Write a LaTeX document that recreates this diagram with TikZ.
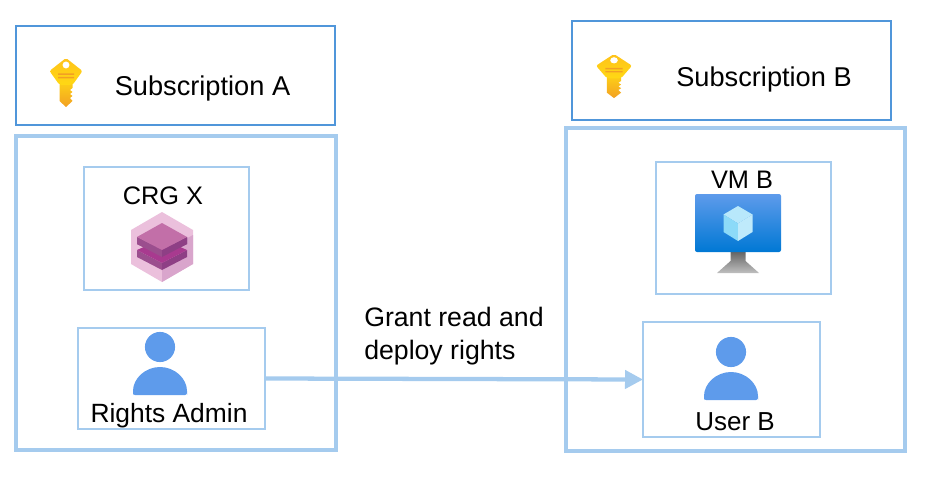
\documentclass[tikz,border=0pt]{standalone}
\usepackage{fontspec}
\setmainfont{Liberation Sans}
\usepackage{tikz}
\usepackage{xcolor}
\usetikzlibrary{arrows.meta, positioning, calc}
\definecolor{cHead}{RGB}{80,150,218}
\definecolor{cPale}{RGB}{165,203,238}
\definecolor{cUser}{RGB}{94,155,235}
\definecolor{cKeyTop}{RGB}{255,194,26}
\definecolor{cKeyMid}{RGB}{255,216,20}
\definecolor{cKeyLow}{RGB}{242,160,36}
\definecolor{cCubeOut}{RGB}{235,192,220}
\definecolor{cCubeDim}{RGB}{217,165,204}
\definecolor{cCubeTop}{RGB}{194,111,168}
\definecolor{cCubeMid}{RGB}{168,58,143}
\definecolor{cCubeLft}{RGB}{155,78,142}
\definecolor{cCubeRgt}{RGB}{142,63,133}
\definecolor{cVmLow}{RGB}{0,120,212}
\tikzset{
	subbox/.style  ={rectangle, draw=cHead, line width=2.2pt*0.75, inner sep=0pt, outer sep=0pt},
	outerbox/.style={rectangle, draw=cPale, line width=4.4pt*0.75, inner sep=0pt, outer sep=0pt},
	itembox/.style ={rectangle, draw=cPale, line width=1.8pt*0.75, inner sep=0pt, outer sep=0pt},
	lbl/.style     ={anchor=base, inner sep=0pt, font=\fontsize{#1}{24.75}\selectfont},
	lbl/.default=20.4,
	grant/.style   ={-{Triangle[length=13.5pt, width=13.5pt]}, cPale, line width=3.2pt},
	% icons, drawn around their own origin
	keyicon/.pic={
		\shade[top color=cKeyMid, bottom color=cKeyLow]
			(-6.5,20) -- (6.5,20) -- (6.5,30) -- (4,32) -- (6.5,34) -- (4,36) -- (6.5,38) -- (4,40) -- (6.5,43) -- (0,49) -- (-6.5,43) -- cycle;
		\shade[top color=cKeyTop, bottom color=cKeyMid, rounded corners=1.5pt]
			(0,0) -- (16.5,13) -- (6.5,27) -- (-6.5,27) -- (-16.5,13) -- cycle;
		\fill[white] (0,7) circle (2.6pt);
		\fill[cKeyLow] (-8,15.5) rectangle (8,17) (-8,19) rectangle (8,20.5);
	},
	cubeicon/.pic={
		\fill[cCubeOut] (0,-35) -- (31,-17) -- (31,17) -- (0,35) -- (-31,17) -- (-31,-17) -- cycle;
		\fill[cCubeDim] (0,5) -- (31,-12) -- (31,17) -- (0,35) -- cycle;
		\foreach \d in {13,0} {
			\fill[cCubeLft] ($(-25,-10)+(0,\d)$) -- ($(0,3)+(0,\d)$) -- ($(0,10)+(0,\d)$) -- ($(-25,-3)+(0,\d)$) -- cycle;
			\fill[cCubeRgt] ($(25,-10)+(0,\d)$) -- ($(0,3)+(0,\d)$) -- ($(0,10)+(0,\d)$) -- ($(25,-3)+(0,\d)$) -- cycle;
		}
		\fill[cCubeMid] (0,-8) -- (25,3) -- (0,16) -- (-25,3) -- cycle;
		\fill[cCubeLft] (-25,-10) -- (0,3) -- (0,10) -- (-25,-3) -- cycle;
		\fill[cCubeRgt] (25,-10) -- (0,3) -- (0,10) -- (25,-3) -- cycle;
		\fill[cCubeTop] (0,-24) -- (25,-10) -- (0,3) -- (-25,-10) -- cycle;
	},
	vmicon/.pic={
		\shade[top color=black!60, bottom color=black!25] (-7.5,29) -- (7.5,29) -- (7.5,38) -- (21,50) -- (-21,50) -- (-7.5,38) -- cycle;
		\shade[top color=cUser, bottom color=cVmLow, rounded corners=1.5pt] (-43,-29) rectangle (43,29);
		\fill[cyan!28!white] (-14.5,-8.5) -- (0,-17) -- (14.5,-8.5) -- (0,0.5) -- cycle;
		\fill[cyan!45!white] (-14.5,-8.5) -- (0,0.5) -- (0,18) -- (-14.5,9) -- cycle;
		\fill[cyan!25!white] (14.5,-8.5) -- (0,0.5) -- (0,18) -- (14.5,9) -- cycle;
	},
	usericon/.pic={
		\fill[cUser] (0,0) circle (11.3pt);
		\fill[cUser, rounded corners=1.5pt] (-27,48) -- (-27,46) arc (180:360:27 and 26) -- (27,48) -- cycle;
	},
}
\begin{document}
\begin{tikzpicture}[x=0.75pt, y=-0.75pt]
	\useasboundingbox (0,0) rectangle (945,481);
	% boxes: name / centre / size in pixels
	\foreach \n/\s/\x/\y/\w/\h in {
		subA/subbox/175.5/75.5/319/99,
		subB/subbox/731.5/70.5/319/99,
		accA/outerbox/176/293/320/314,
		accB/outerbox/735.5/289.5/339/323,
		crg/itembox/166.5/228.5/165/123,
		rights/itembox/171.5/378.5/187/101,
		vmb/itembox/743.5/228/175/132,
		userb/itembox/731.5/379.5/177/115} {
		\node[\s, minimum width={\w*0.75pt}, minimum height={\h*0.75pt}] (\n) at (\x,\y) {};
	}
	\draw[grant] (rights.east) -- (userb.west);
	% icons
	\pic at (66,58) {keyicon};
	\pic[xscale=1.09, yscale=0.9] at (614,54) {keyicon};
	\pic at (162,247) {cubeicon};
	\pic at (738,223) {vmicon};
	\pic at (160,347) {usericon};
	\pic at (731,352) {usericon};
	% labels
	\node[lbl] (lblA) at (202.5,95.5) {Subscription A};
	\node[lbl] (lblB) at (764,87) {Subscription B};
	\node[lbl=19] (lblCrg) at (163,204) {CRG X};
	\node[lbl=19] (lblVm) at (742,188) {VM B};
	\node[lbl=19.8] (lblAdmin) at (169,422) {Rights Admin};
	\node[lbl=19.5] (lblUser) at (735,430) {User B};
	\node[lbl=20, anchor=west, align=left] (lblGrant) at (364,336) {Grant read and\\deploy rights};
\end{tikzpicture}
\end{document}
